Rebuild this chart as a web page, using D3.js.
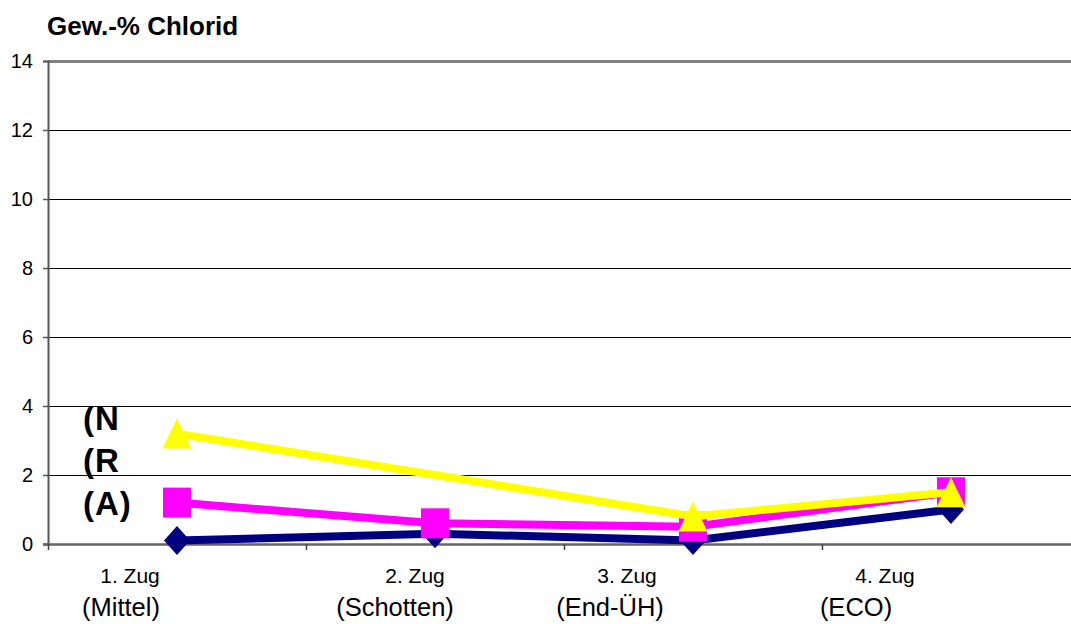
<!DOCTYPE html>
<html>
<head>
<meta charset="utf-8">
<script src="https://cdn.jsdelivr.net/npm/d3@7"></script>
<style>
  html, body { margin: 0; padding: 0; background: #fff; }
  svg { display: block; font-family: "Liberation Sans", Arial, sans-serif; }
</style>
</head>
<body>
<svg id="chart" width="1071" height="624"></svg>
<script>
// Chloride content per draw stage
const categories = ["1. Zug", "2. Zug", "3. Zug", "4. Zug"];
const subLabels = ["(Mittel)", "(Schotten)", "(End-ÜH)", "(ECO)"];
const seriesNames = ["(A)", "(R", "(N"];
const valuesA = [0.1, 0.3, 0.1, 1.0];
const valuesR = [1.2, 0.6, 0.5, 1.5];
const valuesN = [3.2, null, 0.8, 1.5];
const yTickValues = [0, 2, 4, 6, 8, 10, 12, 14];

// Layout
const plot = { left: 48, top: 61, right: 1080, bottom: 544 };
const catShift1 = [-47, -20, -66, -66];
const catShift2 = [-56, -40, -83, -95];
const nameY = [515, 472, 430];

const svg = d3.select("#chart");

const x = d3.scaleBand().domain(categories).range([plot.left, plot.right]).padding(0);
const cx = c => x(c) + x.bandwidth() / 2;
const y = d3.scaleLinear().domain([0, 14]).range([plot.bottom, plot.top]);

// Gridlines
svg.append("g")
  .selectAll("line")
  .data(yTickValues.filter(v => v > 0 && v < 14))
  .join("line")
  .attr("x1", plot.left).attr("x2", plot.right)
  .attr("y1", d => y(d) + 0.5).attr("y2", d => y(d) + 0.5)
  .attr("stroke", "#000").attr("stroke-width", 1);

// Top border of plot area
svg.append("line")
  .attr("x1", plot.left).attr("x2", plot.right)
  .attr("y1", y(14) + 0.5).attr("y2", y(14) + 0.5)
  .attr("stroke", "#808080").attr("stroke-width", 3);

// Y axis
const yAxis = d3.axisLeft(y).tickValues(yTickValues).tickSize(5).tickPadding(10);
const gy = svg.append("g").attr("transform", `translate(${plot.left},0)`).call(yAxis);
gy.select(".domain").attr("stroke", "#555").attr("stroke-width", 2);
gy.selectAll(".tick line").attr("stroke", "#555").attr("stroke-width", 1.5);
gy.selectAll(".tick text")
  .attr("font-size", 20).attr("fill", "#000")
  .attr("font-family", "'Liberation Sans', Arial, sans-serif");

// X axis line and ticks at category boundaries
svg.append("line")
  .attr("x1", plot.left - 5).attr("x2", plot.right)
  .attr("y1", plot.bottom + 0.5).attr("y2", plot.bottom + 0.5)
  .attr("stroke", "#666").attr("stroke-width", 2.5);
svg.append("g")
  .selectAll("line")
  .data(categories)
  .join("line")
  .attr("x1", d => x(d) + 0.5).attr("x2", d => x(d) + 0.5)
  .attr("y1", plot.bottom).attr("y2", plot.bottom + 6)
  .attr("stroke", "#444").attr("stroke-width", 1.5);

// Category labels (two lines)
const catG = svg.append("g").attr("fill", "#000");
catG.selectAll("text.l1")
  .data(categories)
  .join("text")
  .attr("class", "l1")
  .attr("x", (d, i) => cx(d) + catShift1[i])
  .attr("y", 583)
  .attr("text-anchor", "middle")
  .attr("font-size", 21)
  .text(d => d);
catG.selectAll("text.l2")
  .data(categories)
  .join("text")
  .attr("class", "l2")
  .attr("x", (d, i) => cx(d) + catShift2[i])
  .attr("y", 616)
  .attr("text-anchor", "middle")
  .attr("font-size", 25.5)
  .text((d, i) => subLabels[i]);

// Title
svg.append("text")
  .attr("x", 47).attr("y", 35)
  .attr("font-size", 26).attr("font-weight", "bold")
  .text("Gew.-% Chlorid");

// Series
const series = [
  { name: seriesNames[0], values: valuesA, color: "#000080", symbol: "diamond" },
  { name: seriesNames[1], values: valuesR, color: "#FF00FF", symbol: "square" },
  { name: seriesNames[2], values: valuesN, color: "#FFFF00", symbol: "triangle" }
];

const line = d3.line()
  .x(d => cx(d.cat))
  .y(d => y(d.v));

function markerPath(type) {
  if (type === "diamond") return "M0,-14.5L13,0L0,14.5L-13,0Z";
  if (type === "square") return "M-14,-15H14V15H-14Z";
  return "M0,-15L14.5,15H-14.5Z";
}

series.forEach(s => {
  const pts = categories.map((c, i) => ({ cat: c, v: s.values[i] })).filter(p => p.v !== null);
  const g = svg.append("g");
  g.append("path")
    .datum(pts)
    .attr("d", line)
    .attr("fill", "none")
    .attr("stroke", s.color)
    .attr("stroke-width", 8)
    .attr("stroke-linejoin", "round");
  g.selectAll("path.m")
    .data(pts)
    .join("path")
    .attr("class", "m")
    .attr("transform", d => `translate(${cx(d.cat)},${y(d.v)})`)
    .attr("d", markerPath(s.symbol))
    .attr("fill", s.color);
});

// Series names at the left
svg.append("g")
  .selectAll("text")
  .data(series)
  .join("text")
  .attr("x", 83)
  .attr("y", (d, i) => nameY[i])
  .attr("font-size", 33)
  .attr("letter-spacing", 1)
  .attr("font-weight", "bold")
  .attr("fill", "#000")
  .text(d => d.name);
</script>
</body>
</html>
